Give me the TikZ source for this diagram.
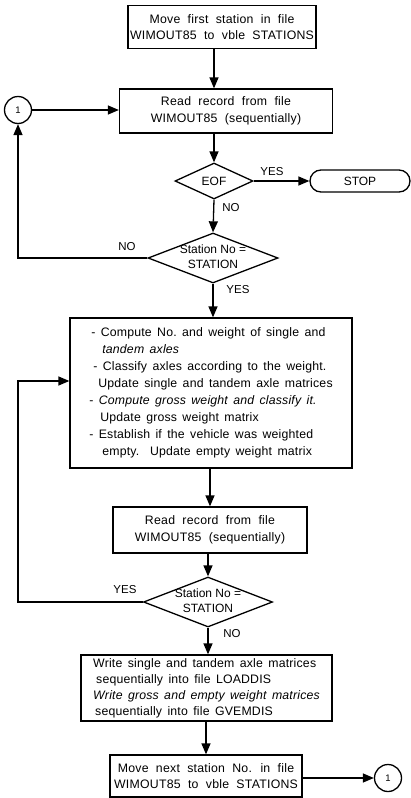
\documentclass[tikz,border=0pt]{standalone}
\usepackage{fontspec}
\setmainfont{Liberation Sans}[WordSpace=2, LetterSpace=2]
\newfontfamily\listfont{Liberation Sans}[WordSpace=1.5, LetterSpace=1.5]
\newfontfamily\plainfont{Liberation Sans}
\usetikzlibrary{arrows.meta,shapes.geometric,shapes.misc,calc}
\begin{document}
\begin{tikzpicture}[x=1pt,y=-1pt,
  font=\fontsize{12.3}{16.5}\selectfont,
  every node/.style={inner sep=0pt},
  box/.style={draw, line width=1.3pt, rectangle, align=center},
  dia/.style={draw, line width=1.3pt, diamond, inner sep=0pt},
  diatext/.style={align=center, font=\plainfont\fontsize{12}{15}\selectfont},
  cir/.style={draw, line width=1.3pt, circle, minimum size=27pt, font=\plainfont\fontsize{9.5}{10}\selectfont},
  arr/.style={line width=1.3pt, -{Triangle[length=11pt,width=9pt]}},
  lbl/.style={font=\plainfont\fontsize{11.5}{12}\selectfont}
]
\useasboundingbox (0,0) rectangle (411,798);

\node[box, minimum width=188, minimum height=43] (b1) at (222,27) {Move first station in file\\WIMOUT85 to vble STATIONS};
\node[box, minimum width=213, minimum height=44] (b2) at (226,111) {Read record from file\\WIMOUT85 (sequentially)};
\node[cir] (c1) at (18,110) {1};
\node[dia, minimum width=78, minimum height=36] (eof) at (214,181) {};
\node[diatext] (eoft) at (eof) {EOF};
\node[draw, line width=1.3pt, rounded rectangle, minimum width=100, minimum height=22, font=\plainfont\fontsize{12}{14}\selectfont] (stop) at (360,181) {STOP};
\node[dia, minimum width=130, minimum height=50] (s1) at (213,258) {};
\node[diatext] (s1t) at (213,257) {Station No =\\STATION};
\node[box, minimum width=282, minimum height=150, align=left, font=\listfont\fontsize{12.3}{17}\selectfont] (big) at (211,393)
 {\hspace*{2pt}- Compute No.\ and weight of single and\\
  \hspace*{13pt}{\itshape tandem axles}\\
  \hspace*{4pt}- Classify axles according to the weight.\\
  \hspace*{9pt}Update single and tandem axle matrices\\
  - {\itshape Compute gross weight and classify it.}\\
  \hspace*{11pt}Update gross weight matrix\\
  - Establish if the vehicle was weighted\\
  \hspace*{13pt}empty.\ \ Update empty weight matrix};
\node[box, minimum width=194, minimum height=46] (b3) at (210,530) {Read record from file\\WIMOUT85 (sequentially)};
\node[dia, minimum width=129, minimum height=50] (s2) at (208,602) {};
\node[diatext] (s2t) at (208,601) {Station No =\\STATION};
\node[box, minimum width=251, minimum height=66, align=left, font=\listfont\fontsize{12.3}{16}\selectfont] (b4) at (206.5,688)
 {Write single and tandem axle matrices\\
  \hspace*{3pt}sequentially into file LOADDIS\\
  {\itshape Write gross and empty weight matrices}\\
  \hspace*{2pt}sequentially into file GVEMDIS};
\node[box, minimum width=192, minimum height=42] (b5) at (206,776) {Move next station No. in file\\WIMOUT85 to vble STATIONS};
\node[cir] (c2) at (388,778) {1};

\node[lbl] (yes1) at (272,172) {YES};
\node[lbl] (no1) at (231,208) {NO};
\node[lbl] (no2) at (127,247) {NO};
\node[lbl] (yes2) at (238,290) {YES};
\node[lbl] (yes3) at (125,590) {YES};
\node[lbl] (no3) at (232,634) {NO};

\draw[arr] (b1.south -| eof.north) -- (b2.north -| eof.north);
\draw[arr] (c1.east) -- (c1.east -| b2.west);
\draw[arr] (b2.south -| eof.north) -- (eof.north);
\draw[arr] (eof.east) -- (stop.west);
\draw[arr] (eof.south) -- (s1.north);
\draw[arr] (s1.west) -| (c1.south);
\draw[arr] (s1.south) -- (s1.south |- big.north);
\draw[arr] (big.south -| b3.north) -- (b3.north);
\draw[arr] (b3.south -| s2.north) -- (s2.north);
\coordinate (lp) at (18,381);
\draw[arr] (s2.west) -| (lp) -- (lp -| big.west);
\draw[arr] (s2.south) -- (s2.south |- b4.north);
\draw[arr] (b4.south -| b5.north) -- (b5.north);
\draw[arr] (b5.east |- c2.west) -- (c2.west);
\end{tikzpicture}
\end{document}
